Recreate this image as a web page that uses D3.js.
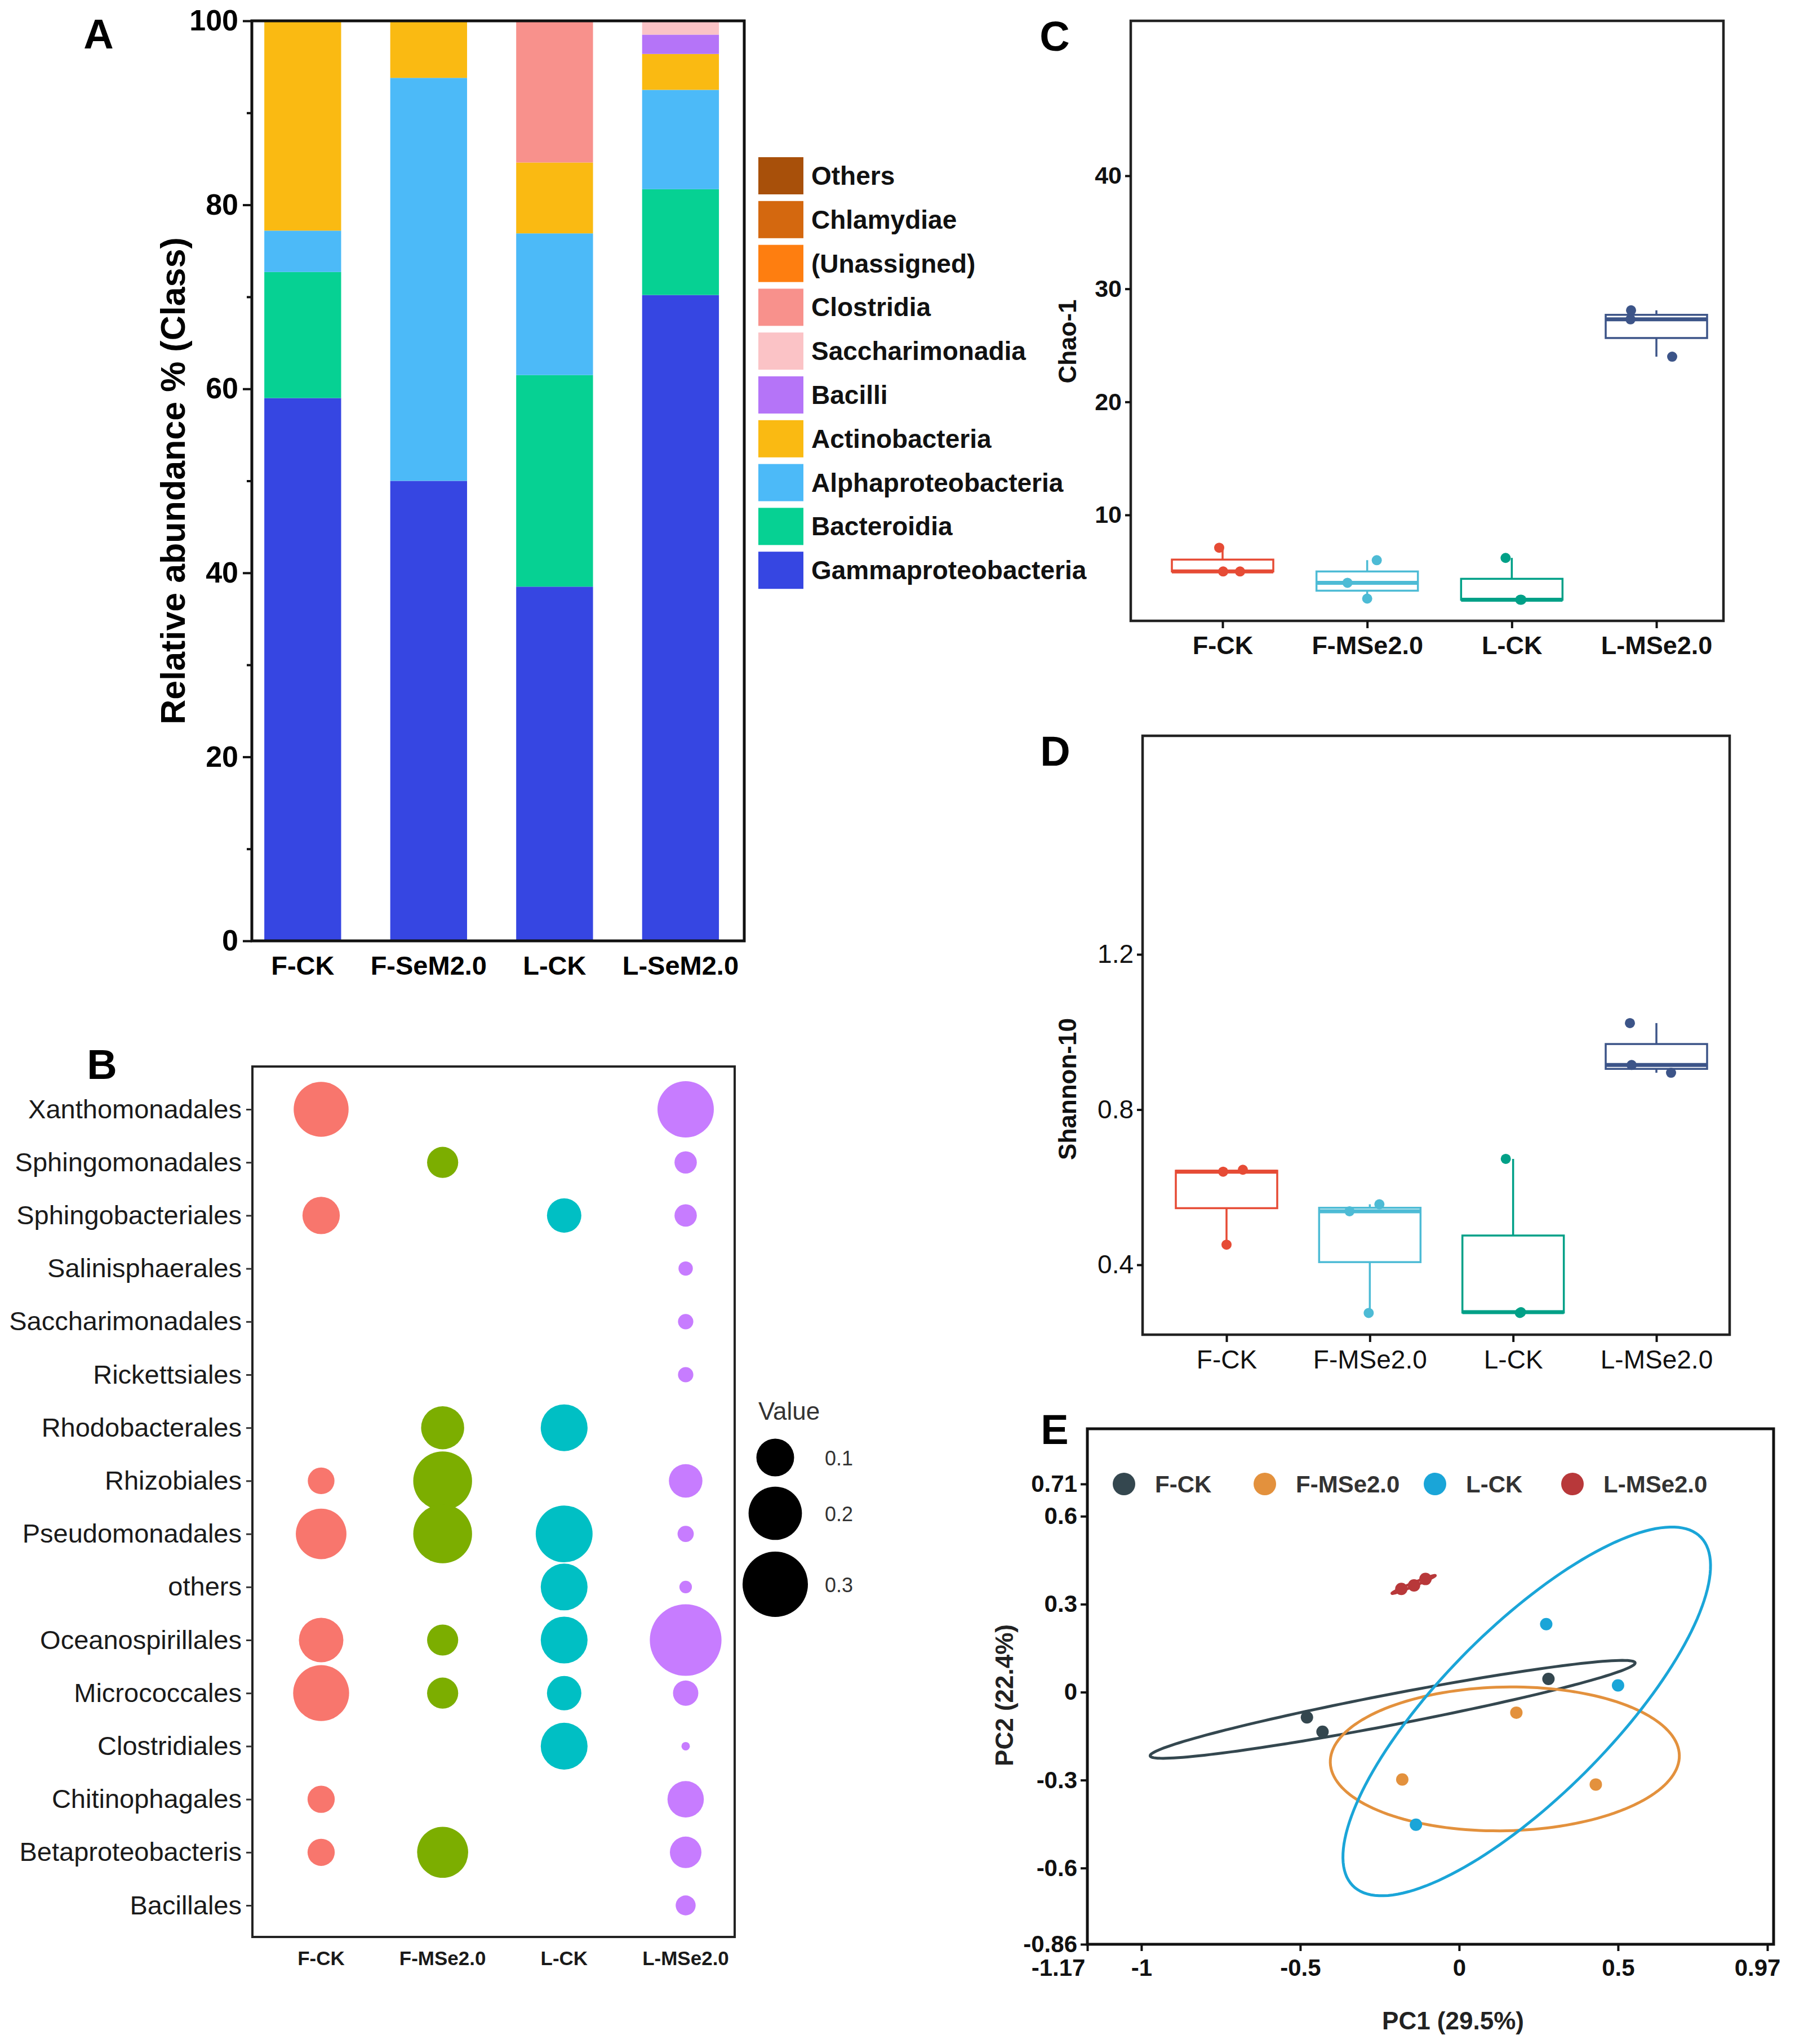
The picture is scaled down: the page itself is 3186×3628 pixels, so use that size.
<!DOCTYPE html>
<html>
<head>
<meta charset="utf-8">
<script src="https://cdn.jsdelivr.net/npm/d3@7"></script>
<style>
  body { margin: 0; background: #fff; }
  svg { display: block; }
  text { font-family: "Liberation Sans", Arial, Helvetica, sans-serif; }
</style>
</head>
<body>
<script>
// ---------- data: panel A (relative abundance, class level) ----------
var groupsA = ['F-CK', 'F-SeM2.0', 'L-CK', 'L-SeM2.0'];
// stacked bottom -> top
var classNames = ['Gammaproteobacteria', 'Bacteroidia', 'Alphaproteobacteria', 'Actinobacteria',
                  'Bacilli', 'Saccharimonadia', 'Clostridia', '(Unassigned)', 'Chlamydiae', 'Others'];
var gammaproteobacteria = [59.0, 50.0, 38.5, 70.2];
var bacteroidia         = [13.7, 0.0, 23.0, 11.5];
var alphaproteobacteria = [4.5, 43.8, 15.4, 10.8];
var actinobacteria      = [22.8, 6.2, 7.7, 3.9];
var bacilli             = [0, 0, 0, 2.1];
var saccharimonadia     = [0, 0, 0, 1.5];
var clostridia          = [0, 0, 15.4, 0];
var unassigned          = [0, 0, 0, 0];
var chlamydiae          = [0, 0, 0, 0];
var others              = [0, 0, 0, 0];
var classColors = ['#3646E2', '#06D193', '#4CBAF8', '#FABA12', '#B574F8',
                   '#FBC3C6', '#F8918C', '#FE7E10', '#D4680F', '#A8500A'];
var yTicksA = [0, 20, 40, 60, 80, 100];

// ---------- data: panel B (order level bubbles) ----------
var orders = ['Xanthomonadales', 'Sphingomonadales', 'Sphingobacteriales', 'Salinisphaerales',
              'Saccharimonadales', 'Rickettsiales', 'Rhodobacterales', 'Rhizobiales',
              'Pseudomonadales', 'others', 'Oceanospirillales', 'Micrococcales',
              'Clostridiales', 'Chitinophagales', 'Betaproteobacteris', 'Bacillales'];
var groupsB = ['F-CK', 'F-MSe2.0', 'L-CK', 'L-MSe2.0'];
var bubbleFCK  = [0.212, 0, 0.098, 0, 0, 0, 0, 0.050, 0.180, 0, 0.139, 0.220, 0, 0.052, 0.052, 0];
var bubbleFMSe = [0, 0.068, 0, 0, 0, 0, 0.130, 0.243, 0.243, 0, 0.068, 0.068, 0, 0, 0.183, 0];
var bubbleLCK  = [0, 0, 0.083, 0, 0, 0, 0.154, 0, 0.227, 0.154, 0.154, 0.083, 0.154, 0, 0, 0];
var bubbleLMSe = [0.223, 0.035, 0.035, 0.0144, 0.0165, 0.0165, 0, 0.079, 0.0185, 0.011, 0.361, 0.045, 0.005, 0.093, 0.070, 0.028];
var bubbleColors = ['#F8766D', '#7CAE00', '#00BFC4', '#C77CFF'];
var sizeBreaks = [0.1, 0.2, 0.3];

// ---------- data: panels C, D (alpha diversity) ----------
var groupsCD = ['F-CK', 'F-MSe2.0', 'L-CK', 'L-MSe2.0'];
var chao1 = [[7.1, 5.0, 5.0], [6.0, 4.0, 2.6], [6.2, 2.5, 2.5], [28.1, 27.3, 24.0]];
var shannon10 = [[0.640, 0.645, 0.452], [0.538, 0.556, 0.276], [0.673, 0.276, 0.278], [1.023, 0.915, 0.895]];
var boxColors = ['#E64B35', '#4DBBD5', '#00A087', '#3C5488'];
var yTicksC = [10, 20, 30, 40];
var yTicksD = [0.4, 0.8, 1.2];

// ---------- data: panel E (PCA) ----------
var groupsE = ['F-CK', 'F-MSe2.0', 'L-CK', 'L-MSe2.0'];
var pc1 = [[-0.479, -0.430, 0.281], [0.180, -0.179, 0.430], [0.274, 0.500, -0.136], [-0.182, -0.142, -0.106]];
var pc2 = [[-0.086, -0.135, 0.045], [-0.070, -0.298, -0.315], [0.232, 0.023, -0.452], [0.352, 0.364, 0.386]];
var pcaColors = ['#34474F', '#E3913D', '#1AA5D8', '#B8383A'];
var xTicksE = [-1.17, -1, -0.5, 0, 0.5, 0.97];
var yTicksE = [0.71, 0.6, 0.3, 0, -0.3, -0.6, -0.86];

// ---------- layout ----------
var W = 3186, H = 3628;
// horizontal jitter (px) of the points in C and D, same order as the data
var jitterC = [[-6, 1, 31], [17, -35, 0], [-11, 15, 17], [-45, -46, 28]];
var jitterD = [[-6, 29, 0], [-36, 17, -2], [-13, 12, 14], [-47, -44, 26]];

var svg = d3.select('body').append('svg').attr('width', W).attr('height', H);
svg.append('rect').attr('width', W).attr('height', H).attr('fill', '#fff');

function panelLetter(txt, x, y) {
    svg.append('text').attr('x', x).attr('y', y).attr('text-anchor', 'middle')
       .attr('font-size', 74).attr('font-weight', 'bold').attr('fill', '#000').text(txt);
}

function styleAxis(g, size, weight, color) {
    g.select('.domain').remove();
    g.selectAll('.tick line').attr('stroke', '#111').attr('stroke-width', 4);
    g.selectAll('.tick text').attr('font-size', size).attr('font-weight', weight)
     .attr('fill', color || '#111').attr('font-family', '"Liberation Sans", Arial, sans-serif');
}

/* ====================== Panel A ====================== */
(function () {
    var left = 447, right = 1321, top = 37, bottom = 1670;
    var x = d3.scaleBand().domain(groupsA).range([left, right])
              .paddingInner(0.39).paddingOuter(0.15).align(0.33);
    var y = d3.scaleLinear().domain([0, 100]).range([bottom, top]);

    var series = [gammaproteobacteria, bacteroidia, alphaproteobacteria, actinobacteria, bacilli,
                  saccharimonadia, clostridia, unassigned, chlamydiae, others];
    var table = groupsA.map(function (g, i) {
        var row = { group: g };
        classNames.forEach(function (c, k) { row[c] = series[k][i]; });
        return row;
    });
    var stacked = d3.stack().keys(classNames)(table);

    var layers = svg.append('g').selectAll('g').data(stacked).enter().append('g')
                    .attr('fill', function (d, k) { return classColors[k]; });
    layers.selectAll('rect').data(function (d) { return d; }).enter().append('rect')
          .attr('x', function (d) { return x(d.data.group); })
          .attr('width', x.bandwidth())
          .attr('y', function (d) { return y(d[1]); })
          .attr('height', function (d) { return Math.max(0, y(d[0]) - y(d[1])); });

    // frame
    svg.append('rect').attr('x', left).attr('y', top).attr('width', right - left).attr('height', bottom - top)
       .attr('fill', 'none').attr('stroke', '#111').attr('stroke-width', 5);

    // minor ticks
    svg.append('g').attr('transform', 'translate(' + left + ',0)')
       .call(d3.axisLeft(y).tickValues([10, 30, 50, 70, 90]).tickSize(9).tickFormat(''))
       .call(function (g) { styleAxis(g, 0, 'bold'); });
    // major ticks
    svg.append('g').attr('transform', 'translate(' + left + ',0)')
       .call(d3.axisLeft(y).tickValues(yTicksA).tickSize(16).tickPadding(8))
       .call(function (g) { styleAxis(g, 52, 'bold', '#000'); });

    // x labels
    svg.append('g').selectAll('text').data(groupsA).enter().append('text')
       .attr('x', function (d) { return x(d) + x.bandwidth() / 2; })
       .attr('y', 1730).attr('text-anchor', 'middle')
       .attr('font-size', 47).attr('font-weight', 'bold').attr('fill', '#000')
       .text(function (d) { return d; });

    svg.append('text').attr('transform', 'translate(328,' + (top + bottom) / 2 + ') rotate(-90)')
       .attr('text-anchor', 'middle').attr('font-size', 61).attr('font-weight', 'bold')
       .attr('fill', '#000').text('Relative abundance % (Class)');

    // legend (top = last stacked class)
    var legendItems = classNames.map(function (c, k) { return { name: c, color: classColors[k] }; }).reverse();
    var lg = svg.append('g').selectAll('g').data(legendItems).enter().append('g')
                .attr('transform', function (d, i) { return 'translate(1346,' + (312 + i * 77.8) + ')'; });
    lg.append('rect').attr('x', 0).attr('y', -33).attr('width', 80).attr('height', 66)
      .attr('fill', function (d) { return d.color; });
    lg.append('text').attr('x', 94).attr('y', 16).attr('font-size', 46).attr('font-weight', 'bold')
      .attr('fill', '#111').text(function (d) { return d.name; });

    panelLetter('A', 175, 86);
})();

/* ====================== Panel B ====================== */
(function () {
    var left = 448, right = 1304, top = 1893, bottom = 3438;
    var x = d3.scalePoint().domain(groupsB).range([570, 1217]);
    var y = d3.scalePoint().domain(orders).range([1969, 3382]);
    var size = d3.scaleSqrt().domain([0, 0.3]).range([0, 58]);

    var cols = [bubbleFCK, bubbleFMSe, bubbleLCK, bubbleLMSe];
    var pts = [];
    cols.forEach(function (col, j) {
        col.forEach(function (v, i) { if (v > 0) pts.push({ g: groupsB[j], o: orders[i], v: v, c: bubbleColors[j] }); });
    });
    svg.append('g').selectAll('circle').data(pts).enter().append('circle')
       .attr('cx', function (d) { return x(d.g); })
       .attr('cy', function (d) { return y(d.o); })
       .attr('r', function (d) { return size(d.v); })
       .attr('fill', function (d) { return d.c; });

    svg.append('rect').attr('x', left).attr('y', top).attr('width', right - left).attr('height', bottom - top)
       .attr('fill', 'none').attr('stroke', '#222').attr('stroke-width', 4);

    svg.append('g').attr('transform', 'translate(' + left + ',0)')
       .call(d3.axisLeft(y).tickSize(11).tickPadding(8))
       .call(function (g) {
           styleAxis(g, 47, 'normal', '#1a1a1a');
           g.selectAll('.tick line').attr('stroke', '#333').attr('stroke-width', 3);
       });

    svg.append('g').selectAll('text').data(groupsB).enter().append('text')
       .attr('x', function (d) { return x(d); }).attr('y', 3488).attr('text-anchor', 'middle')
       .attr('font-size', 35).attr('font-weight', 'bold').attr('fill', '#1a1a1a')
       .text(function (d) { return d; });

    // size legend
    svg.append('text').attr('x', 1346).attr('y', 2520).attr('font-size', 44).attr('fill', '#333').text('Value');
    var keyY = [2587, 2686, 2812];
    var lk = svg.append('g').selectAll('g').data(sizeBreaks).enter().append('g')
                .attr('transform', function (d, i) { return 'translate(1376,' + keyY[i] + ')'; });
    lk.append('circle').attr('r', function (d) { return size(d); }).attr('fill', '#000');
    lk.append('text').attr('x', 88).attr('y', 14).attr('font-size', 36).attr('fill', '#333')
      .text(function (d) { return d; });

    panelLetter('B', 181, 1915);
})();

/* ====================== Panels C, D (boxplots) ====================== */
function boxPanel(cfg) {
    var x = d3.scalePoint().domain(groupsCD).range(cfg.xRange);
    var y = d3.scaleLinear().domain(cfg.yDomain).range(cfg.yRange);
    var bw = 180;

    cfg.data.forEach(function (vals, i) {
        var cx = x(groupsCD[i]);
        var col = boxColors[i];
        var q1 = d3.quantile(vals, 0.25), med = d3.quantile(vals, 0.5), q3 = d3.quantile(vals, 0.75);
        var iqr = q3 - q1;
        var lo = d3.min(vals.filter(function (v) { return v >= q1 - 1.5 * iqr; }));
        var hi = d3.max(vals.filter(function (v) { return v <= q3 + 1.5 * iqr; }));
        var g = svg.append('g');
        g.append('line').attr('x1', cx).attr('x2', cx).attr('y1', y(q3)).attr('y2', y(hi))
         .attr('stroke', col).attr('stroke-width', 3.5);
        g.append('line').attr('x1', cx).attr('x2', cx).attr('y1', y(q1)).attr('y2', y(lo))
         .attr('stroke', col).attr('stroke-width', 3.5);
        g.append('rect').attr('x', cx - bw / 2).attr('width', bw)
         .attr('y', y(q3)).attr('height', Math.max(0, y(q1) - y(q3)))
         .attr('fill', '#fff').attr('stroke', col).attr('stroke-width', 3.5);
        g.append('line').attr('x1', cx - bw / 2).attr('x2', cx + bw / 2).attr('y1', y(med)).attr('y2', y(med))
         .attr('stroke', col).attr('stroke-width', 7);
        g.selectAll('circle').data(vals).enter().append('circle')
         .attr('cx', function (d, k) { return cx + cfg.jitter[i][k]; })
         .attr('cy', function (d) { return y(d); })
         .attr('r', 9).attr('fill', col);
    });

    svg.append('rect').attr('x', cfg.frame[0]).attr('y', cfg.frame[1])
       .attr('width', cfg.frame[2] - cfg.frame[0]).attr('height', cfg.frame[3] - cfg.frame[1])
       .attr('fill', 'none').attr('stroke', '#222').attr('stroke-width', 4.5);

    svg.append('g').attr('transform', 'translate(' + cfg.frame[0] + ',0)')
       .call(d3.axisLeft(y).tickValues(cfg.ticks).tickSize(10).tickPadding(6).tickFormat(cfg.fmt))
       .call(function (g) { styleAxis(g, cfg.tickSize, cfg.tickWeight, '#111'); });
    svg.append('g').attr('transform', 'translate(0,' + cfg.frame[3] + ')')
       .call(d3.axisBottom(x).tickSize(13).tickPadding(14))
       .call(function (g) { styleAxis(g, cfg.xLabelSize, cfg.tickWeight, '#111'); });

    svg.append('text').attr('transform', 'translate(' + cfg.titlePos[0] + ',' + cfg.titlePos[1] + ') rotate(-90)')
       .attr('text-anchor', 'middle').attr('font-size', 44).attr('font-weight', 'bold')
       .attr('fill', '#111').text(cfg.title);
}

boxPanel({
    frame: [2007, 37, 3059, 1102],
    xRange: [2170, 2940],
    yDomain: [10, 40], yRange: [914, 312],
    ticks: yTicksC, fmt: d3.format('d'),
    tickSize: 43, xLabelSize: 45, tickWeight: 'bold',
    data: chao1, jitter: jitterC,
    title: 'Chao-1', titlePos: [1910, 606]
});
panelLetter('C', 1872, 90);

boxPanel({
    frame: [2028, 1306, 3070, 2369],
    xRange: [2177, 2940],
    yDomain: [0.4, 1.2], yRange: [2245, 1694],
    ticks: yTicksD, fmt: d3.format('.1f'),
    tickSize: 46, xLabelSize: 46, tickWeight: 'normal',
    data: shannon10, jitter: jitterD,
    title: 'Shannon-10', titlePos: [1910, 1933]
});
panelLetter('D', 1873, 1359);

/* ====================== Panel E (PCA) ====================== */
function ellipsePoints(xs, ys, k, n) {
    var mx = d3.mean(xs), my = d3.mean(ys), m = xs.length;
    var sxx = 0, syy = 0, sxy = 0;
    for (var i = 0; i < m; i++) {
        sxx += (xs[i] - mx) * (xs[i] - mx);
        syy += (ys[i] - my) * (ys[i] - my);
        sxy += (xs[i] - mx) * (ys[i] - my);
    }
    sxx /= (m - 1); syy /= (m - 1); sxy /= (m - 1);
    var tr = sxx + syy, det = sxx * syy - sxy * sxy;
    var disc = Math.sqrt(Math.max(tr * tr / 4 - det, 0));
    var l1 = tr / 2 + disc, l2 = Math.max(tr / 2 - disc, 0);
    var th = 0.5 * Math.atan2(2 * sxy, sxx - syy);
    return d3.range(n).map(function (j) {
        var t = 2 * Math.PI * j / n;
        var a = k * Math.sqrt(l1) * Math.cos(t), b = k * Math.sqrt(l2) * Math.sin(t);
        return [mx + a * Math.cos(th) - b * Math.sin(th), my + a * Math.sin(th) + b * Math.cos(th)];
    });
}

(function () {
    var left = 1930, right = 3148, top = 2536, bottom = 3451;
    var x = d3.scaleLinear().domain([-1.17, 0.97]).range([left, 3137]);
    var y = d3.scaleLinear().domain([-0.86, 0.71]).range([bottom, 2634]);
    var k = Math.sqrt(-2 * Math.log(1 - 0.8));   // 80% normal ellipse

    var line = d3.line().x(function (d) { return x(d[0]); }).y(function (d) { return y(d[1]); })
                 .curve(d3.curveLinearClosed);

    groupsE.forEach(function (g, i) {
        svg.append('path').attr('d', line(ellipsePoints(pc1[i], pc2[i], k, 160)))
           .attr('fill', 'none').attr('stroke', pcaColors[i]).attr('stroke-width', 5);
    });
    groupsE.forEach(function (g, i) {
        svg.append('g').selectAll('circle').data(pc1[i]).enter().append('circle')
           .attr('cx', function (d) { return x(d); })
           .attr('cy', function (d, j) { return y(pc2[i][j]); })
           .attr('r', 11).attr('fill', pcaColors[i]);
    });

    svg.append('rect').attr('x', left).attr('y', top).attr('width', right - left).attr('height', bottom - top)
       .attr('fill', 'none').attr('stroke', '#111').attr('stroke-width', 5);

    var fmt = function (d) { return String(d); };
    svg.append('g').attr('transform', 'translate(' + left + ',0)')
       .call(d3.axisLeft(y).tickValues(yTicksE).tickSize(12).tickPadding(6).tickFormat(fmt))
       .call(function (g) { styleAxis(g, 42, 'bold', '#111'); });
    svg.append('g').attr('transform', 'translate(0,' + bottom + ')')
       .call(d3.axisBottom(x).tickValues(xTicksE).tickSize(12).tickPadding(14).tickFormat(fmt))
       .call(function (g) {
           styleAxis(g, 42, 'bold', '#111');
           // end labels sit slightly left of their ticks, as in the original
           g.selectAll('.tick text').attr('dx', function (d) { return d === -1.17 ? -52 : (d === 0.97 ? -18 : 0); });
       });

    svg.append('text').attr('x', 2579).attr('y', 3602).attr('text-anchor', 'middle')
       .attr('font-size', 44).attr('font-weight', 'bold').attr('fill', '#222').text('PC1 (29.5%)');
    svg.append('text').attr('transform', 'translate(1798,3009) rotate(-90)')
       .attr('text-anchor', 'middle').attr('font-size', 44).attr('font-weight', 'bold')
       .attr('fill', '#222').text('PC2 (22.4%)');

    // legend
    var legX = [1995, 2245, 2547, 2791];
    var le = svg.append('g').selectAll('g').data(groupsE).enter().append('g')
                .attr('transform', function (d, i) { return 'translate(' + legX[i] + ',2634)'; });
    le.append('circle').attr('r', 20).attr('fill', function (d, i) { return pcaColors[i]; });
    le.append('text').attr('x', 55).attr('y', 15).attr('font-size', 42).attr('font-weight', 'bold')
      .attr('fill', '#333').text(function (d) { return d; });

    panelLetter('E', 1872, 2563);
})();
</script>
</body>
</html>
